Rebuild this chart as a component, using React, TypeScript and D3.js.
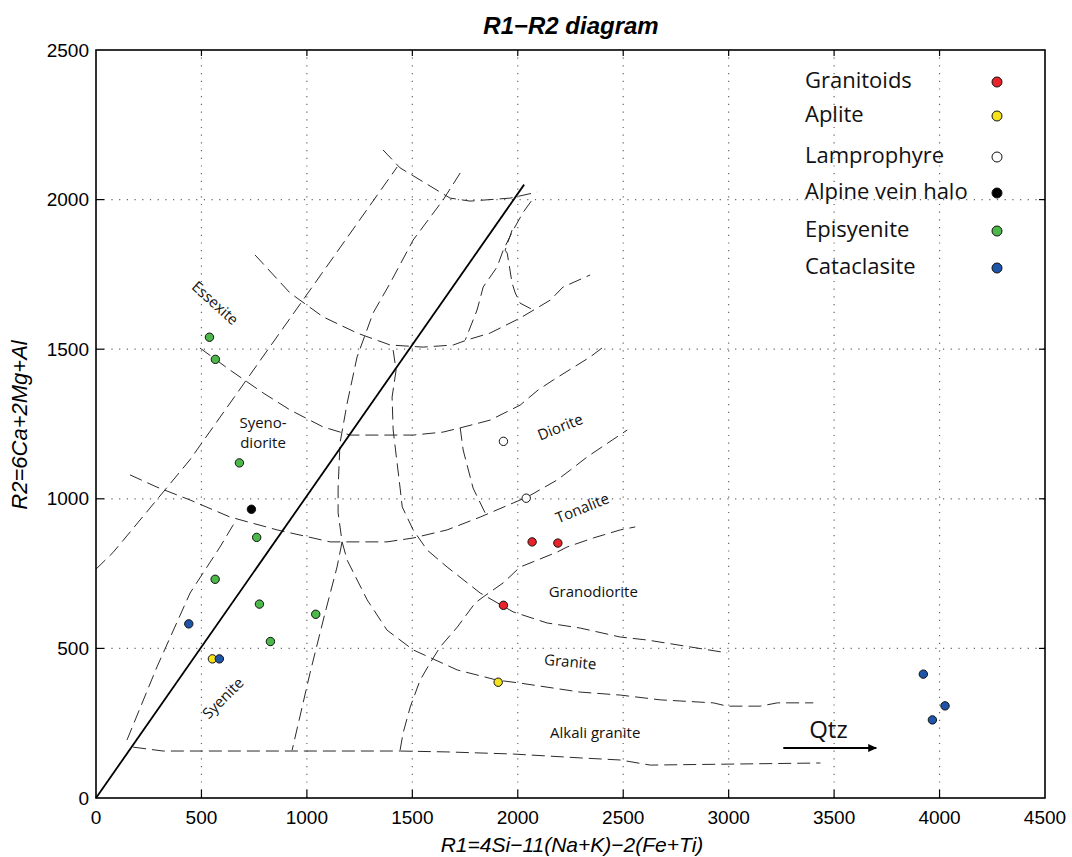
import React from "react";
import * as d3 from "d3";

const W = 1072, H = 857;
const xTicks = [0, 500, 1000, 1500, 2000, 2500, 3000, 3500, 4000, 4500];
const yTicks = [0, 500, 1000, 1500, 2000, 2500];

type P = [number, number];

// boundary curves of the R1-R2 diagram (data coordinates)
const lineA: P[] = [[0, 765], [80, 820], [130, 862], [445, 1130], [1428, 2109]];
const lineB: P[] = [[1361, 2166], [1442, 2106], [1679, 2005], [1774, 1995], [1964, 2005], [2092, 2025]];
const lineC: P[] = [[1727, 2089], [1646, 1999], [1504, 1865], [1395, 1721], [1314, 1621], [1238, 1474], [1191, 1320], [1157, 1186], [1148, 1036], [1148, 953], [1167, 856]];
const lineD: P[] = [[2064, 1995], [2026, 1958], [1978, 1898], [1931, 1831], [1902, 1775], [1836, 1708], [1807, 1631], [1751, 1531]];
const lineE: P[] = [[1973, 1898], [1940, 1831], [1950, 1821], [1973, 1721], [1988, 1688], [2011, 1654], [2073, 1631]];
const lineF: P[] = [[754, 1815], [920, 1688], [1077, 1608], [1238, 1554], [1395, 1514], [1551, 1507], [1694, 1514], [1760, 1531], [1869, 1554], [2011, 1604], [2154, 1664], [2215, 1708], [2343, 1748]];
const lineG: P[] = [[493, 1504], [636, 1430], [792, 1354], [920, 1297], [1077, 1240], [1205, 1213], [1504, 1213], [1646, 1223], [1727, 1237], [1869, 1263], [2011, 1313], [2097, 1364], [2168, 1397], [2343, 1474], [2405, 1507]];
const lineH: P[] = [[1727, 1237], [1741, 1163], [1788, 1036], [1845, 953]];
const lineJ: P[] = [[1409, 1497], [1423, 1430], [1404, 1340], [1409, 1230], [1442, 1036], [1452, 973], [1504, 896], [1570, 829], [1665, 772], [1822, 685], [1978, 622], [2139, 585], [2296, 568], [2486, 538], [2614, 528], [2993, 485]];
const lineK: P[] = [[161, 1080], [289, 1039], [446, 996], [636, 939], [859, 896], [1029, 869], [1110, 856], [1238, 856], [1380, 856], [1504, 869], [1665, 896], [1822, 939], [1978, 986], [2045, 1006], [2187, 1063], [2249, 1096], [2329, 1140], [2519, 1230]];
const lineL: P[] = [[1442, 160], [1456, 217], [1490, 304], [1537, 394], [1584, 451], [1632, 505], [1713, 571], [1798, 652], [1836, 672], [1931, 719], [2011, 772], [2092, 795], [2187, 822], [2234, 839], [2358, 869], [2486, 896], [2557, 906]];
const lineM: P[] = [[1167, 856], [1191, 795], [1286, 662], [1380, 561], [1504, 495], [1713, 428], [1902, 394], [2011, 384], [2296, 354], [2486, 344], [2676, 328], [2927, 318], [2993, 307], [3150, 307], [3231, 318], [3401, 318]];
const lineN: P[] = [[176, 170], [318, 157], [1442, 157], [1665, 154], [1978, 147], [2296, 134], [2486, 127], [2628, 110], [3435, 117]];
const lineO: P[] = [[147, 194], [289, 438], [446, 685], [588, 839], [650, 912], [669, 926]];
const lineP: P[] = [[1167, 856], [1143, 772], [1086, 618], [1015, 418], [930, 160]];
const boundaries = [lineA, lineB, lineC, lineD, lineE, lineF, lineG, lineH, lineJ, lineK, lineL, lineM, lineN, lineO, lineP];

const diagonal: P[] = [[0, 0], [2030, 2050]];

// samples
const granitoids: P[] = [[2068, 856], [2190, 852], [1932, 644]];
const aplite: P[] = [[552, 465], [1907, 387]];
const lamprophyre: P[] = [[1932, 1192], [2040, 1002]];
const alpine: P[] = [[737, 965]];
const episyenite: P[] = [[538, 1540], [566, 1466], [680, 1120], [762, 871], [565, 731], [775, 648], [1042, 614], [827, 523]];
const cataclasite: P[] = [[440, 582], [585, 465], [3923, 414], [4026, 308], [3966, 261]];

const seriesNames = ["Granitoids", "Aplite", "Lamprophyre", "Alpine vein halo", "Episyenite", "Cataclasite"];
const seriesData = [granitoids, aplite, lamprophyre, alpine, episyenite, cataclasite];
const seriesColors = ["#e8232a", "#f4e21c", "#ffffff", "#000000", "#4cb84a", "#1f55a8"];

// field labels: [text, x, y, rotation]
const fieldLabels: [string, number, number, number][] = [
  ["Essexite", 565, 1654, 42],
  ["Syeno-", 792, 1253, 0],
  ["diorite", 792, 1186, 0],
  ["Diorite", 2201, 1240, -22],
  ["Tonalite", 2306, 969, -22],
  ["Granodiorite", 2358, 688, 0],
  ["Granite", 2249, 455, 5],
  ["Alkali granite", 2367, 217, 0],
  ["Syenite", 602, 334, -45],
];
const qtzArrow: P[] = [[3259, 167], [3700, 167]];
const qtzLabel: P = [3473, 227];

export default function App() {
  const x = d3.scaleLinear().domain([0, 4500]).range([96, 1045]);
  const y = d3.scaleLinear().domain([0, 2500]).range([798, 50]);
  const line = d3.line<P>().x(d => x(d[0])).y(d => y(d[1])).curve(d3.curveLinear);
  const x0 = x(0), x1 = x(4500), y0 = y(0), y1 = y(2500);
  const tickFont = "'Liberation Sans', Arial, sans-serif";
  const labelFont = "'Open Sans', 'Noto Sans', sans-serif";
  const legendY = [80, 114, 155, 191, 229, 266];

  return (
    <svg width={W} height={H} style={{ position: "absolute", left: 0, top: 0, background: "#fff" }}>
      <defs>
        <marker id="arr" viewBox="0 0 10 10" refX="9" refY="5" markerWidth="9" markerHeight="9" orient="auto" markerUnits="userSpaceOnUse">
          <path d="M0,0.5 L10,5 L0,9.5 Z" fill="#000" />
        </marker>
      </defs>
      <rect x={0} y={0} width={W} height={H} fill="#fff" />
      {/* grid */}
      <g stroke="#666" strokeWidth={1.2} strokeDasharray="1.2,6.5">
        {xTicks.slice(1, -1).map(t => <line key={"gx" + t} x1={x(t)} x2={x(t)} y1={y0} y2={y1} />)}
        {yTicks.slice(1, -1).map(t => <line key={"gy" + t} x1={x0} x2={x1} y1={y(t)} y2={y(t)} />)}
      </g>
      {/* boundaries */}
      <g fill="none" stroke="#2a2a2a" strokeWidth={1} strokeDasharray="13,6">
        {boundaries.map((b, i) => <path key={"b" + i} d={line(b) || ""} />)}
      </g>
      <path d={line(diagonal) || ""} stroke="#000" strokeWidth={1.8} fill="none" />
      {/* field labels */}
      <g fontFamily={labelFont} fontSize={15} fill="#111" textAnchor="middle">
        {fieldLabels.map(([t, lx, ly, r], i) => (
          <text key={"fl" + i} x={x(lx)} y={y(ly)} dy="0.35em" transform={`rotate(${r},${x(lx)},${y(ly)})`}>{t}</text>
        ))}
      </g>
      {/* Qtz arrow */}
      <path d={line(qtzArrow) || ""} stroke="#000" strokeWidth={2} markerEnd="url(#arr)" />
      <text x={x(qtzLabel[0])} y={y(qtzLabel[1])} dy="0.35em" textAnchor="middle" fontFamily={labelFont} fontSize={24} fill="#111">Qtz</text>
      {/* points */}
      {seriesData.map((s, i) => (
        <g key={"s" + i}>
          {s.map((d, j) => (
            <circle key={j} cx={x(d[0])} cy={y(d[1])} r={4.2} fill={seriesColors[i]} stroke="#111" strokeWidth={1} />
          ))}
        </g>
      ))}
      {/* frame */}
      <rect x={x0} y={y1} width={x1 - x0} height={y0 - y1} fill="none" stroke="#000" strokeWidth={1.6} />
      {/* ticks */}
      <g stroke="#000" strokeWidth={1.2}>
        {xTicks.slice(1, -1).map(t => (
          <g key={"tx" + t}>
            <line x1={x(t)} x2={x(t)} y1={y0} y2={y0 - 8} />
            <line x1={x(t)} x2={x(t)} y1={y1} y2={y1 + 6} />
          </g>
        ))}
        {yTicks.slice(1, -1).map(t => (
          <g key={"ty" + t}>
            <line x1={x0} x2={x0 + 8} y1={y(t)} y2={y(t)} />
            <line x1={x1} x2={x1 - 6} y1={y(t)} y2={y(t)} />
          </g>
        ))}
      </g>
      {/* tick labels */}
      <g fontFamily={tickFont} fontSize={19} fill="#000">
        {xTicks.map(t => <text key={"lx" + t} x={x(t)} y={y0 + 26} textAnchor="middle">{t}</text>)}
        {yTicks.map(t => <text key={"ly" + t} x={x0 - 7} y={y(t)} dy="0.35em" textAnchor="end">{t}</text>)}
      </g>
      {/* axis titles */}
      <text x={572} y={852} textAnchor="middle" fontFamily={tickFont} fontStyle="italic" fontSize={21} fill="#000">R1=4Si−11(Na+K)−2(Fe+Ti)</text>
      <text transform="translate(27,425) rotate(-90)" textAnchor="middle" fontFamily={tickFont} fontStyle="italic" fontSize={22} fill="#000">R2=6Ca+2Mg+Al</text>
      <text x={571} y={34} textAnchor="middle" fontFamily={tickFont} fontStyle="italic" fontWeight="bold" fontSize={24} fill="#000">R1−R2 diagram</text>
      {/* legend */}
      <g fontFamily={labelFont} fontSize={22} fill="#111">
        {seriesNames.map((n, i) => (
          <g key={"lg" + i}>
            <text x={805} y={legendY[i]} dy="0.35em">{n}</text>
            <circle cx={997} cy={legendY[i] + 2} r={5} fill={seriesColors[i]} stroke="#111" strokeWidth={1} />
          </g>
        ))}
      </g>
    </svg>
  );
}
